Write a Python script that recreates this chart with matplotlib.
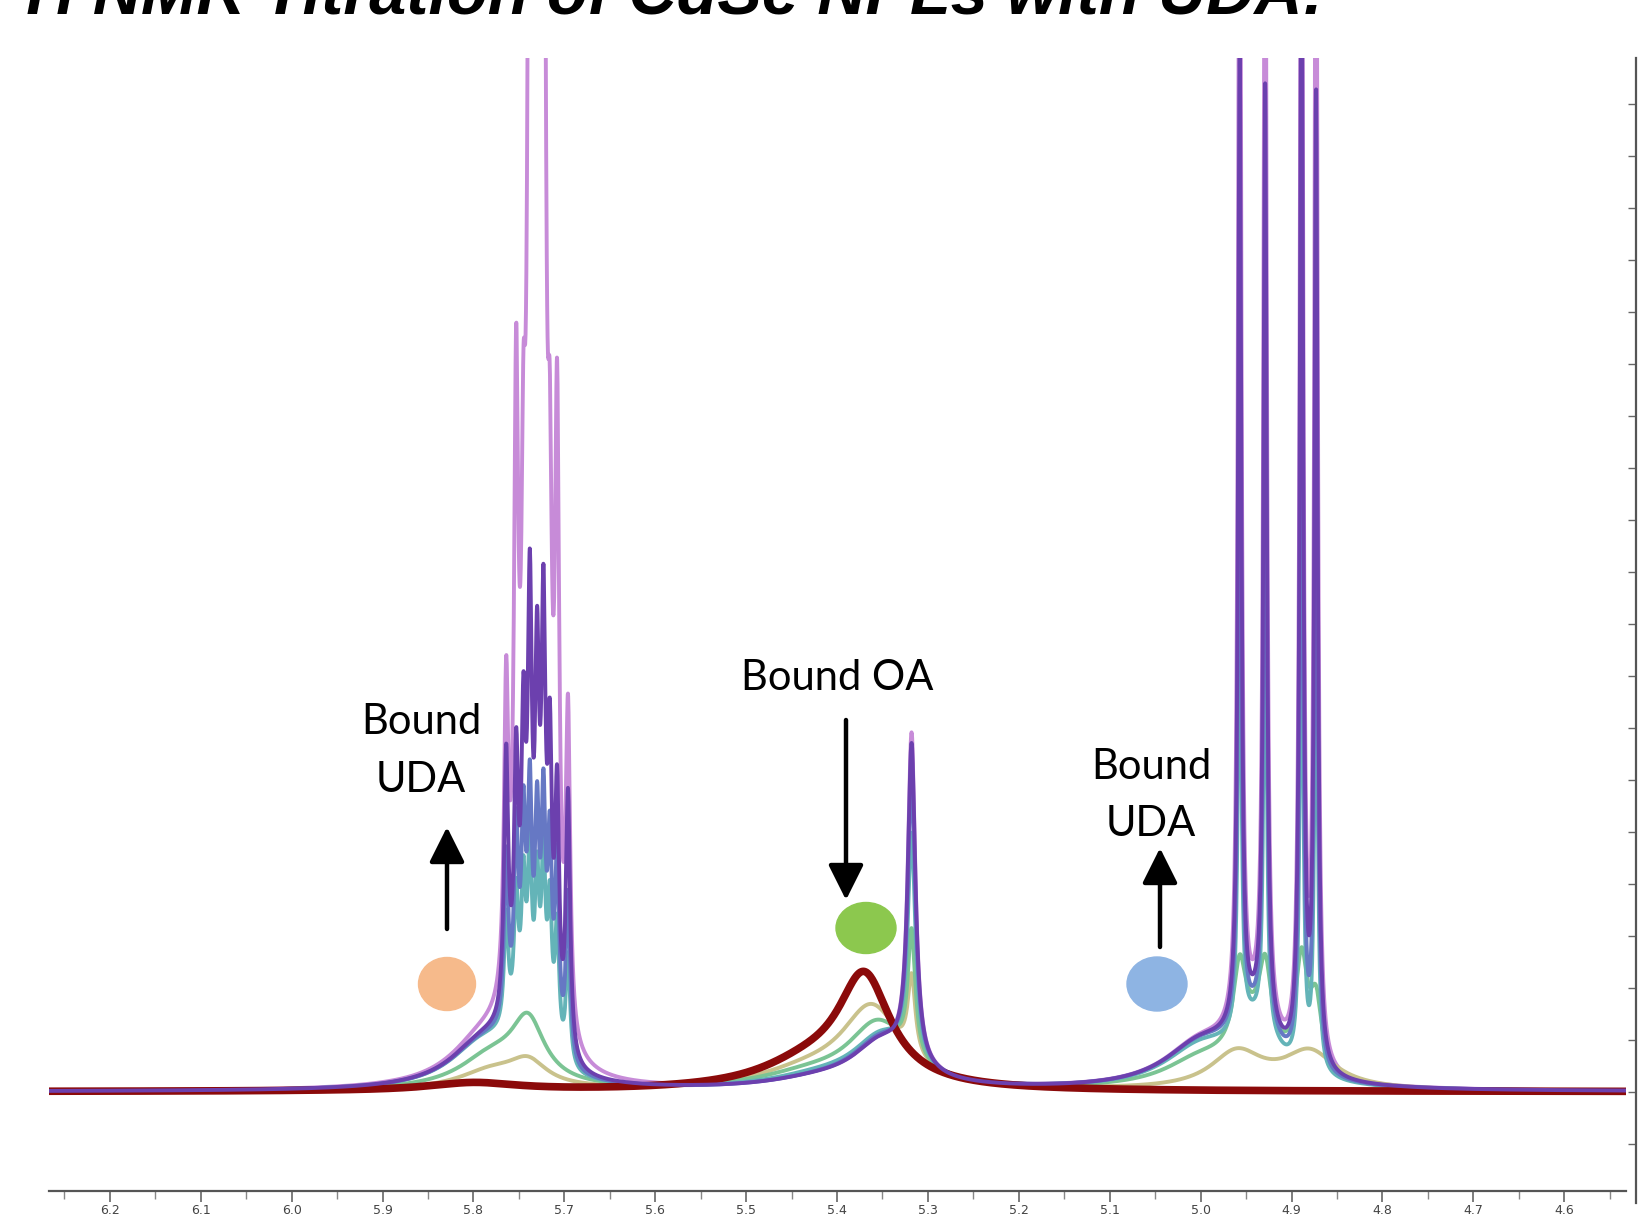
import numpy as np
import matplotlib.pyplot as plt
from matplotlib.patches import Ellipse
from matplotlib.ticker import MultipleLocator

# 化学位移刻度 (ppm) 与强度刻度
ppm_ticks = [6.2, 6.1, 6.0, 5.9, 5.8, 5.7, 5.6, 5.5, 5.4, 5.3, 5.2, 5.1, 5.0, 4.9, 4.8, 4.7, 4.6]
ppm_labels = ['6.2', '6.1', '6.0', '5.9', '5.8', '5.7', '5.6', '5.5', '5.4', '5.3', '5.2',
              '5.1', '5.0', '4.9', '4.8', '4.7', '4.6']
intensity_ticks = list(range(-1, 20))

# 谱线位置 (ppm)
ppm_left = [5.764, 5.753, 5.745, 5.738, 5.730, 5.723, 5.716, 5.708, 5.696]   # UDA =CH-
ppm_right = [4.957, 4.929, 4.889, 4.873]                                        # UDA =CH2
ppm_oa = 5.318                                                                  # free OA

# 每条谱的尖峰高度 (左多重峰, 右多重峰, OA 尖峰)
orchid_left = [5.8, 11.0, 7.0, 25.0, 29.0, 25.0, 7.0, 11.0, 6.0]
orchid_right = [25.0, 24.0, 27.0, 25.0]
orchid_oa = 6.3
purple_left = [5.0, 4.6, 5.0, 7.6, 6.2, 7.4, 5.0, 4.6, 5.0]
purple_right = [18.5, 18.0, 22.0, 18.6]
purple_oa = 6.1
blue_left = [3.2, 3.5, 3.6, 4.2, 3.8, 4.2, 3.6, 3.5, 3.2]
blue_right = [13.5, 13.5, 15.0, 13.8]
blue_oa = 5.4
teal_left = [2.1, 2.4, 2.6, 3.2, 2.8, 3.3, 2.6, 2.4, 2.1]
teal_right = [9.5, 9.2, 10.7, 9.6]
teal_oa = 4.3
green_right = [1.5, 1.45, 2.1, 1.35]
green_oa = 2.4
khaki_oa = 1.5

# 宽峰 (中心 ppm, 高度, 半高半宽)
red_broad = [(5.370, 2.05, 0.035), (5.43, 0.45, 0.07), (5.80, 0.15, 0.06)]
khaki_broad = [(5.78, 0.35, 0.045), (5.74, 0.45, 0.025), (5.362, 1.5, 0.04), (5.43, 0.3, 0.07),
               (4.96, 0.7, 0.035), (4.88, 0.7, 0.035)]
green_broad = [(5.78, 0.6, 0.045), (5.74, 1.15, 0.022), (5.355, 1.2, 0.04), (5.43, 0.25, 0.07),
               (5.00, 0.5, 0.05), (4.94, 0.9, 0.03)]
teal_broad = [(5.79, 0.8, 0.045), (5.75, 0.6, 0.03), (5.35, 0.95, 0.04), (5.42, 0.2, 0.07),
              (5.00, 0.75, 0.05), (4.94, 1.0, 0.03)]
blue_broad = [(5.79, 0.8, 0.045), (5.75, 0.6, 0.03), (5.35, 0.9, 0.04), (5.42, 0.15, 0.07),
              (5.00, 0.8, 0.05), (4.94, 1.05, 0.03)]
purple_broad = [(5.79, 0.8, 0.045), (5.75, 0.6, 0.03), (5.35, 0.85, 0.04), (5.42, 0.15, 0.07),
                (5.00, 0.8, 0.05), (4.94, 1.05, 0.03)]

W_LEFT = 0.0028
W_RIGHT = 0.0021
W_OA = 0.005

ppm = np.linspace(4.52, 6.28, 8000)


def lorentz_sum(peaks):
    y = np.zeros_like(ppm)
    for c, h, w in peaks:
        y += h / (1 + ((ppm - c) / w) ** 2)
    return y


def lines(pos, heights, w):
    return [(c, h, w) for c, h in zip(pos, heights)]


series = [
    # (颜色, 线宽, 峰表)
    ('#C78BD8', 2.8, purple_broad + lines(ppm_left, orchid_left, W_LEFT)
     + lines(ppm_right, orchid_right, W_RIGHT) + [(ppm_oa, orchid_oa, W_OA)]),
    ('#C9C28C', 2.8, khaki_broad + [(ppm_oa, khaki_oa, W_OA)]),
    ('#7BC494', 2.8, green_broad + lines(ppm_right, green_right, 0.008) + [(ppm_oa, green_oa, W_OA)]),
    ('#64B4B8', 2.8, teal_broad + lines(ppm_left, teal_left, W_LEFT)
     + lines(ppm_right, teal_right, W_RIGHT) + [(ppm_oa, teal_oa, W_OA)]),
    ('#6678C4', 2.8, blue_broad + lines(ppm_left, blue_left, W_LEFT)
     + lines(ppm_right, blue_right, W_RIGHT) + [(ppm_oa, blue_oa, W_OA)]),
    ('#8B0A0A', 5.5, red_broad),
    ('#6C40AE', 2.8, purple_broad + lines(ppm_left, purple_left, W_LEFT)
     + lines(ppm_right, purple_right, W_RIGHT) + [(ppm_oa, purple_oa, W_OA)]),
]

W, H = 1641, 1216
fig = plt.figure(figsize=(W / 100, H / 100), dpi=100)

ax = fig.add_axes([49 / W, 25 / H, (1626 - 49) / W, (1191 - 58) / H])
for color, lw, peaks in series:
    ax.plot(ppm, lorentz_sum(peaks), color=color, lw=lw, solid_joinstyle='round')
ax.set_xlim(6.267, 4.532)
ax.set_ylim(-1.91, 19.88)
for s in ['top', 'left', 'right']:
    ax.spines[s].set_visible(False)
ax.spines['bottom'].set_color('#555555')
ax.spines['bottom'].set_linewidth(1.6)
ax.set_yticks([])
ax.set_xticks(ppm_ticks)
ax.set_xticklabels(ppm_labels)
ax.xaxis.set_minor_locator(MultipleLocator(0.05))
ax.tick_params(axis='x', which='major', length=8, width=1.2, color='#666666',
               labelsize=9, labelcolor='#444444', pad=1)
ax.tick_params(axis='x', which='minor', length=6, width=1.0, color='#888888')

# 右侧强度轴
axr = fig.add_axes([1636 / W, 13 / H, 0.0005, (1203 - 58) / H])
axr.set_ylim(-2.14, 19.88)
for s in ['top', 'bottom', 'right']:
    axr.spines[s].set_visible(False)
axr.spines['left'].set_color('#555555')
axr.spines['left'].set_linewidth(1.6)
axr.set_xticks([])
axr.set_yticks(intensity_ticks)
axr.tick_params(axis='y', direction='out', length=6, width=1.0, color='#666666', labelleft=False)
axr.patch.set_visible(False)

# 标题 (原图顶部即被裁切)
fig.text(4 / W, 1 - 13 / H, '\u00b9H NMR Titration of CdSe NPLs with UDA:', fontsize=48,
         fontweight='bold', fontstyle='italic', family='Liberation Sans', va='baseline', ha='left')

# 注释层 (像素坐标)
ov = fig.add_axes([0, 0, 1, 1])
ov.set_xlim(0, W)
ov.set_ylim(H, 0)
ov.axis('off')

txt = dict(fontsize=30, family='Lato', ha='center', va='center', color='black')
ov.text(421, 722, 'Bound', **txt)
ov.text(421, 780, 'UDA', **txt)
ov.text(837, 678, 'Bound OA', **txt)
ov.text(1151, 767, 'Bound', **txt)
ov.text(1151, 824, 'UDA', **txt)

arrow = dict(arrowstyle='-|>,head_length=0.9,head_width=0.45', lw=3.2, color='black',
             mutation_scale=24, shrinkA=0, shrinkB=0)
ov.annotate('', xy=(447, 827), xytext=(447, 929), arrowprops=arrow)
ov.annotate('', xy=(846, 900), xytext=(846, 720), arrowprops=arrow)
ov.annotate('', xy=(1160, 848), xytext=(1160, 947), arrowprops=arrow)

ov.add_patch(Ellipse((447, 984), 57, 53, color='#F6BA8B'))
ov.add_patch(Ellipse((866, 928), 60, 51, color='#8CC84E'))
ov.add_patch(Ellipse((1157, 984), 60, 54, color='#8EB4E3'))

fig.savefig('out.png', dpi=100)
